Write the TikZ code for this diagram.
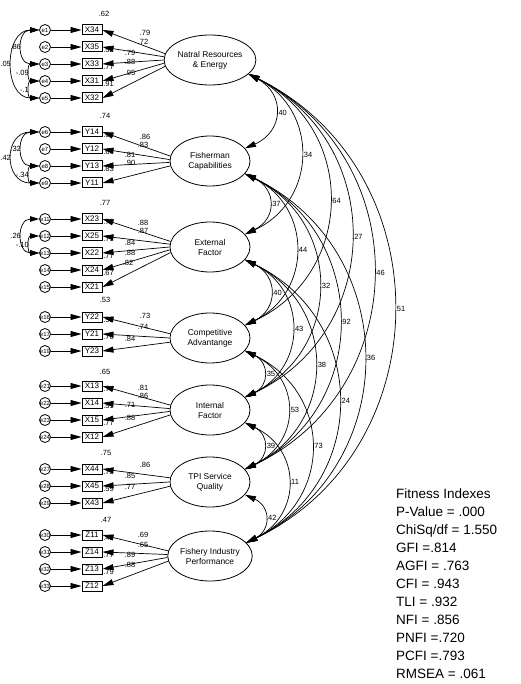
\documentclass[tikz,border=0pt]{standalone}
\usepackage{fontspec}
\setmainfont{Liberation Sans}
\usetikzlibrary{shapes.geometric,arrows.meta,calc}

\tikzset{
  latent/.style={draw, ellipse, line width=.8pt, minimum width=80pt, minimum height=50pt,
    inner sep=0pt, align=center, font=\fontsize{8.4}{10}\selectfont},
  obs/.style={draw, rectangle, line width=1pt, minimum width=20pt, minimum height=10pt,
    inner sep=0pt, font=\fontsize{8}{8}\selectfont},
  err/.style={draw, circle, line width=.8pt, minimum size=11pt, inner sep=0pt,
    font=\fontsize{6}{6}\selectfont},
  lbl/.style={inner sep=1pt, font=\fontsize{7.5}{7.5}\selectfont},
  tip/.style={->, line width=.7pt, >={Triangle[length=11pt,width=6pt]}},
  cov/.style={<->, line width=.7pt, >={Triangle[length=11pt,width=6pt]}, bend left=64},
  ecov/.style={<->, line width=.7pt, >={Triangle[length=9pt,width=5.5pt]}, out=180, in=180},
}

\begin{document}
\begin{tikzpicture}[x=1pt,y=-1pt]
  \useasboundingbox (0,0) rectangle (521,684);

  \node[latent] (NR)  at (210,60)  {Natral Resources\\\& Energy};
  \node[latent] (FC)  at (210,161) {Fisherman\\Capabilities};
  \node[latent] (EF)  at (210,247) {External\\Factor};
  \node[latent] (CA)  at (210,338) {Competitive\\Advantange};
  \node[latent] (IF)  at (210,410) {Internal\\Factor};
  \node[latent] (TPI) at (210,482) {TPI Service\\Quality};
  \node[latent] (FIP) at (210,556) {Fishery Industry\\Performance};

  \foreach \v/\e/\y in {X34/e1/30, X35/e2/47, X33/e3/64, X31/e4/81, X32/e5/98,
      Y14/e6/132, Y12/e7/149, Y13/e8/166, Y11/e9/183,
      X23/e11/219, X25/e12/236, X22/e13/253, X24/e14/270, X21/e15/287,
      Y22/e16/317, Y21/e17/334, Y23/e19/351,
      X13/e21/386, X14/e22/403, X15/e23/420, X12/e24/437,
      X44/e27/469, X45/e28/486, X43/e29/503,
      Z11/e30/535, Z14/e31/552, Z13/e32/569, Z12/e33/586}{
    \node[obs] (\v) at (92,\y) {\v};
    \node[err] (\e) at (45,\y) {\e};
  }

  \foreach \v/\r in {X35/.52, X33/.77, X31/.91, Y14/.68, Y12/.66, Y13/.83,
      X23/.76, X25/.71, X22/.77, X24/.67, Y22/.55, Y21/.70,
      X13/.74, X14/.51, X15/.77, X44/.73, X45/.59, Z11/.42, Z14/.77, Z13/.79}
    \node[lbl] (r\v) at ($(\v.east)+(6,3)$) {\r};

  \foreach \n/\x/\y/\t in {a1/104/14/.62, a2/105/116/.74, a3/105/203/.77, a4/105/300/.53,
      a5/105/372/.65, a6/106/453/.75, a7/106/520/.47}
    \node[lbl] (\n) at (\x,\y) {\t};

  \foreach \n/\x/\y/\t in {l1/145/33/.79, l2/143/42/.72, l3/130/53/.79, l4/130/62/.88, l5/130/73/.95,
      l6/145/137/.86, l7/143/145/.83, l8/130/155/.81, l9/130/163/.90,
      l10/143/223/.88, l11/143/231/.87, l12/130/243/.84, l13/130/253/.88, l14/128/263/.82,
      l15/145/316/.73, l16/143/327/.74, l17/130/339/.84,
      l18/143/388/.81, l19/143/396/.86, l20/130/405/.71, l21/130/418/.88,
      l22/145/465/.86, l23/130/476/.85, l24/130/487/.77,
      l25/143/535/.69, l26/143/545/.65, l27/130/555/.89, l28/130/565/.88}
    \node[lbl] (\n) at (\x,\y) {\t};

  \foreach \v/\e/\l/\a in {X34/e1/NR/172, X35/e2/NR/176, X33/e3/NR/180, X31/e4/NR/184, X32/e5/NR/188,
      Y14/e6/FC/173, Y12/e7/FC/178, Y13/e8/FC/182, Y11/e9/FC/187,
      X23/e11/EF/172, X25/e12/EF/176, X22/e13/EF/180, X24/e14/EF/184, X21/e15/EF/188,
      Y22/e16/CA/174, Y21/e17/CA/180, Y23/e19/CA/186,
      X13/e21/IF/173, X14/e22/IF/178, X15/e23/IF/182, X12/e24/IF/187,
      X44/e27/TPI/174, X45/e28/TPI/180, X43/e29/TPI/186,
      Z11/e30/FIP/173, Z14/e31/FIP/178, Z13/e32/FIP/182, Z12/e33/FIP/187}{
    \draw[tip] (\e) -- (\v);
    \draw[tip] (\l.\a) -- (\v.east);
  }

  \draw[ecov, looseness=1.7]  (e1.west) to node[lbl,left] (k1) {.86} (e3.west);
  \draw[ecov, looseness=1.35] (e1.west) to node[lbl,left] (k2) {.05} (e5.west);
  \draw[ecov, looseness=1.8]  (e3.west) to node[lbl,left] (k3) {-.09} (e4.west);
  \draw[ecov, looseness=1.8]  (e4.west) to node[lbl,left] (k4) {-.1} (e5.west);
  \draw[ecov, looseness=1.7]  (e6.west) to node[lbl,left] (k5) {.32} (e8.west);
  \draw[ecov, looseness=1.8]  (e6.west) to node[lbl,left] (k6) {.42} (e9.west);
  \draw[ecov, looseness=1.8]  (e8.west) to node[lbl,left] (k7) {-.34} (e9.west);
  \draw[ecov, looseness=1.7]  (e11.west) to node[lbl,left] (k8) {.26} (e13.west);
  \draw[ecov, looseness=1.8]  (e12.west) to node[lbl,left] (k9) {-.10} (e13.west);

  \foreach \p/\q/\c/\k in {NR/FC/.40/1.45, NR/EF/.34/1.27, NR/CA/.64/1.24, NR/IF/.27/1.22,
      NR/TPI/.46/1.21, NR/FIP/.51/1.18,
      FC/EF/.37/1.5, FC/CA/.44/1.27, FC/IF/.32/1.25, FC/TPI/.92/1.21, FC/FIP/.36/1.21,
      EF/CA/.40/1.45, EF/IF/.43/1.29, EF/TPI/.38/1.26, EF/FIP/.24/1.24,
      CA/IF/.35/1.5, CA/TPI/.53/1.36, CA/FIP/.73/1.29,
      IF/TPI/.39/1.5, IF/FIP/.11/1.33, TPI/FIP/.42/1.5}
    \draw[cov, looseness=\k] (\p.-20) to node[lbl,right] (c\p\q) {\c} (\q.20);

  \node[anchor=north west, inner sep=0pt, align=left, font=\fontsize{13.5}{18}\selectfont] (fit)
    at (396,489) {Fitness Indexes\\P-Value = .000\\ChiSq/df = 1.550\\GFI =.814\\AGFI = .763\\
    CFI = .943\\TLI = .932\\NFI = .856\\PNFI =.720\\PCFI =.793\\RMSEA = .061};
\end{tikzpicture}
\end{document}
